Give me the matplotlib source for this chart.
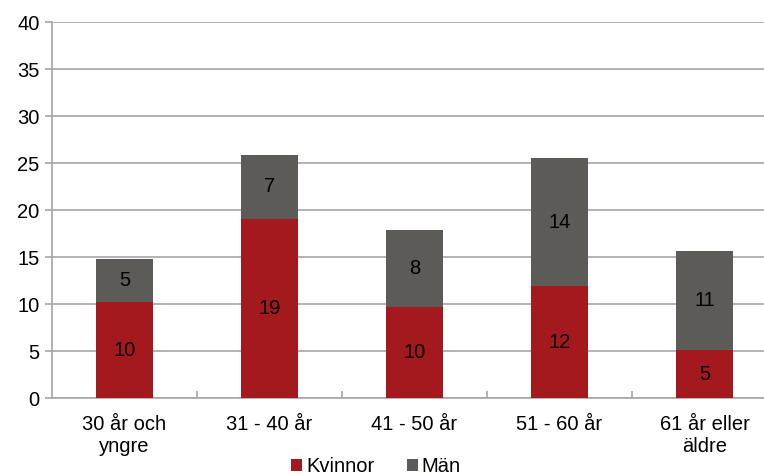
import matplotlib.pyplot as plt
import numpy as np

plt.rcParams['font.family'] = ['Liberation Sans', 'DejaVu Sans']

# data
categories = ['30 år och\nyngre', '31 - 40 år', '41 - 50 år', '51 - 60 år', '61 år eller\näldre']
kvinnor = [10.25, 19.1, 9.66, 11.95, 5.16]
man = [4.54, 6.76, 8.28, 13.56, 10.55]
kvinnor_labels = ['10', '19', '10', '12', '5']
man_labels = ['5', '7', '8', '14', '11']
yticks = [0, 5, 10, 15, 20, 25, 30, 35, 40]

red = '#A3191D'
grey = '#5C5B57'
gridgrey = '#A6A6A6'
fs = 14.5

fig = plt.figure(figsize=(7.64, 4.75), dpi=100)
ax = fig.add_axes([52 / 764, 76.7 / 475, 1 - 52 / 764, 376.3 / 475])

x = np.arange(len(categories))
w = 0.393
b1 = ax.bar(x, kvinnor, w, color=red, label='Kvinnor', zorder=3)
b2 = ax.bar(x, man, w, bottom=kvinnor, color=grey, label='Män', zorder=3)

# numbers inside the segments
for xi, k, m, kl, ml in zip(x, kvinnor, man, kvinnor_labels, man_labels):
    ax.text(xi, k / 2, kl, ha='center', va='center', fontsize=fs, color='black', zorder=4)
    ax.text(xi, k + m / 2, ml, ha='center', va='center', fontsize=fs, color='black', zorder=4)

ax.set_yticks(yticks)
ax.yaxis.grid(True, color=gridgrey, linewidth=1.2, zorder=0)
ax.set_axisbelow(True)

ax.set_xticks(x)
ax.set_xticklabels(categories, fontsize=fs, linespacing=1.2)
ax.set_xticks(np.arange(len(categories)) + 0.5, minor=True)
ax.tick_params(axis='x', which='major', length=0, pad=12)
ax.tick_params(axis='x', which='minor', length=5, direction='in', color=gridgrey, width=1.2)
ax.tick_params(axis='y', length=5, color=gridgrey, width=1.2, labelsize=fs, pad=4)

# limits after the ticks so the minor ticks do not widen the view
ax.set_ylim(0, 40)
ax.set_xlim(-0.5, (764 - 124.5) / 145)

for s in ['top', 'right']:
    ax.spines[s].set_visible(False)
for s in ['left', 'bottom']:
    ax.spines[s].set_color(gridgrey)
    ax.spines[s].set_linewidth(1.2)

fig.legend(handles=[b1, b2], loc='center', bbox_to_anchor=(376 / 764, 1 - 467 / 475),
           ncol=2, frameon=False, fontsize=fs, handlelength=0.55, handleheight=0.55,
           handletextpad=0.2, columnspacing=1.6, borderaxespad=0)

fig.savefig('out.png', dpi=100)
